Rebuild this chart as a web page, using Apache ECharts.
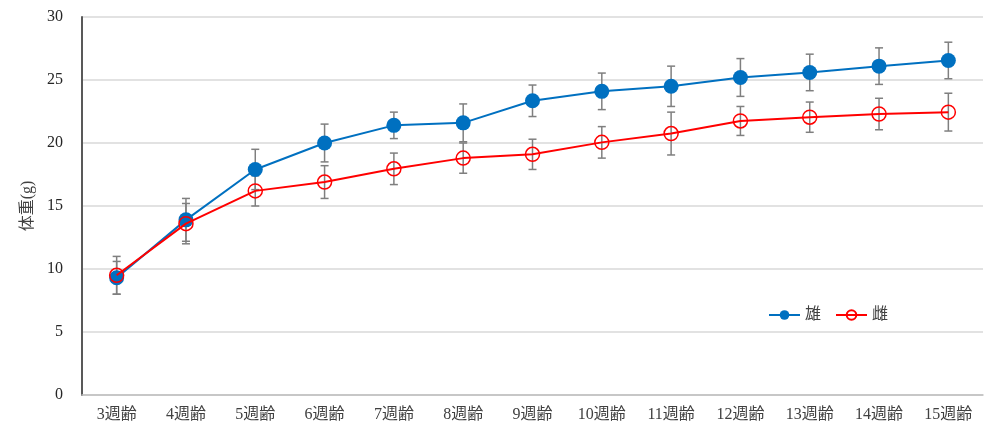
<!DOCTYPE html>
<html><head><meta charset="utf-8">
<script src="https://cdn.jsdelivr.net/npm/echarts@6/dist/echarts.min.js"></script>
<style>html,body{margin:0;padding:0;background:#fff}#c{width:1000px;height:437px}</style>
</head><body><div id="c"></div>
<script>
const categories = ['3週齢','4週齢','5週齢','6週齢','7週齢','8週齢','9週齢','10週齢','11週齢','12週齢','13週齢','14週齢','15週齢'];
const maleMean = [9.3, 13.9, 17.9, 20.0, 21.4, 21.6, 23.35, 24.1, 24.5, 25.2, 25.6, 26.1, 26.55];
const maleSD   = [1.3, 1.7, 1.6, 1.5, 1.05, 1.5, 1.25, 1.45, 1.6, 1.5, 1.45, 1.45, 1.45];
const femaleMean = [9.5, 13.6, 16.2, 16.9, 17.95, 18.8, 19.1, 20.05, 20.75, 21.75, 22.05, 22.3, 22.45];
const femaleSD   = [1.5, 1.6, 1.2, 1.3, 1.25, 1.2, 1.2, 1.25, 1.7, 1.15, 1.2, 1.25, 1.5];

const FONT = '"Liberation Serif", "Noto Sans CJK JP", serif';
function errData(mean, sd){ return mean.map((m,i)=>[i, m+sd[i], m-sd[i]]); }
function errRender(params, api){
  const x = api.value(0);
  const hi = api.coord([x, api.value(1)]);
  const lo = api.coord([x, api.value(2)]);
  const w = 4;
  const st = {stroke:'#7f7f7f', lineWidth:1.5};
  return {type:'group', children:[
    {type:'line', shape:{x1:hi[0],y1:hi[1],x2:lo[0],y2:lo[1]}, style:st},
    {type:'line', shape:{x1:hi[0]-w,y1:hi[1],x2:hi[0]+w,y2:hi[1]}, style:st},
    {type:'line', shape:{x1:lo[0]-w,y1:lo[1],x2:lo[0]+w,y2:lo[1]}, style:st}
  ]};
}
const chart = echarts.init(document.getElementById('c'), null, {renderer:'canvas'});
chart.setOption({
  animation:false,
  backgroundColor:'#fff',
  textStyle:{fontFamily:FONT},
  grid:{left:82, right:17, top:17, bottom:42},
  legend:{
    left:763, top:302, itemWidth:31, itemHeight:12, itemGap:14,
    textStyle:{fontFamily:FONT, fontSize:16, color:'#404040'},
    data:['雄','雌']
  },
  xAxis:{
    type:'category', data:categories, boundaryGap:true,
    axisLine:{lineStyle:{color:'#bfbfbf', width:1.5}},
    axisTick:{show:false},
    axisLabel:{fontFamily:FONT, fontSize:16, color:'#404040', margin:12}
  },
  yAxis:{
    type:'value', min:0, max:30, interval:5,
    name:'体重(g)', nameLocation:'middle', nameGap:44,
    nameTextStyle:{fontFamily:FONT, fontSize:16, color:'#404040'},
    axisLine:{show:true, lineStyle:{color:'#595959', width:2}},
    axisTick:{show:false},
    axisLabel:{fontFamily:FONT, fontSize:16, color:'#262626', margin:19},
    splitLine:{lineStyle:{color:'#d9d9d9', width:1.5}}
  },
  series:[
    {type:'custom', name:'errM', renderItem:errRender, data:errData(maleMean, maleSD), z:1, silent:true},
    {type:'custom', name:'errF', renderItem:errRender, data:errData(femaleMean, femaleSD), z:1, silent:true},
    {type:'line', name:'雄', data:maleMean, symbol:'circle', symbolSize:15, z:3,
     lineStyle:{color:'#0070C0', width:2}, itemStyle:{color:'#0070C0'}},
    {type:'line', name:'雌', data:femaleMean, symbol:'circle', symbolSize:14, z:4,
     lineStyle:{color:'#FF0000', width:2}, itemStyle:{color:'rgba(255,255,255,0)', borderColor:'#FF0000', borderWidth:1.5}}
  ]
});
</script>
</body></html>
